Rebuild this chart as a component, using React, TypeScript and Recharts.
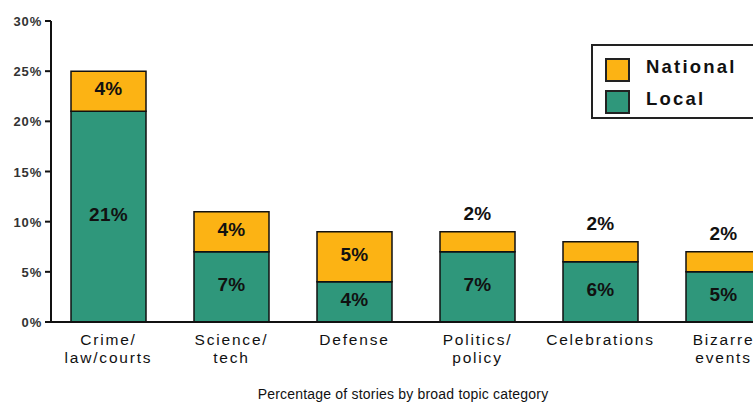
import React from "react";
import {
  BarChart,
  Bar,
  XAxis,
  YAxis,
  LabelList,
  Legend,
} from "recharts";

// topic categories (each name split over lines for the axis)
const topics = [
  "Crime/\nlaw/courts",
  "Science/\ntech",
  "Defense",
  "Politics/\npolicy",
  "Celebrations",
  "Bizarre\nevents",
];
const local = [21, 7, 4, 7, 6, 5];
const national = [4, 4, 5, 2, 2, 2];
const yTicks = [0, 5, 10, 15, 20, 25, 30];

const LOCAL_COLOR = "#2f977b";
const NATIONAL_COLOR = "#fcb314";
const FONT = "'Liberation Sans', Arial, sans-serif";

const data = topics.map((topic, i) => ({
  topic,
  local: local[i],
  national: national[i],
}));

function TopicTick(props: any) {
  const { x, y, payload } = props;
  const lines = String(payload.value).split("\n");
  return (
    <text
      x={x}
      y={y + 15}
      textAnchor="middle"
      fontFamily={FONT}
      fontSize={15.5}
      fill="#111"
      style={{ letterSpacing: "1.8px" }}
    >
      {lines.map((line, i) => (
        <tspan key={i} x={x} dy={i === 0 ? 0 : 18}>
          {line}
        </tspan>
      ))}
    </text>
  );
}

function PercentTick(props: any) {
  const { x, y, payload } = props;
  return (
    <text
      x={x - 1}
      y={y + 5}
      textAnchor="end"
      fontFamily={FONT}
      fontSize={13}
      fontWeight="bold"
      fill="#333"
      style={{ letterSpacing: "0.8px" }}
    >
      {payload.value}%
    </text>
  );
}

// value inside the segment; small national shares go above the bar
function SegmentLabel(props: any) {
  const { x, y, width, height, value } = props;
  const above = height < 25;
  return (
    <text
      x={x + width / 2}
      y={above ? y - 12 : y + height / 2 + 4}
      textAnchor="middle"
      fontFamily={FONT}
      fontSize={19}
      fontWeight="bold"
      fill="#111"
      style={{ letterSpacing: "0.3px" }}
    >
      {value}%
    </text>
  );
}

function KeyBox() {
  const items = [
    { name: "National", color: NATIONAL_COLOR },
    { name: "Local", color: LOCAL_COLOR },
  ];
  return (
    <div
      style={{
        border: "2px solid #222",
        width: 200,
        height: 75,
        background: "#fff",
        boxSizing: "border-box",
        padding: "8px 0 0 12px",
      }}
    >
      {items.map((item) => (
        <div
          key={item.name}
          style={{ display: "flex", alignItems: "center", height: 32 }}
        >
          <div
            style={{
              width: 21,
              height: 20,
              background: item.color,
              border: "2px solid #222",
              marginRight: 16,
            }}
          />
          <span
            style={{
              fontFamily: FONT,
              fontWeight: "bold",
              fontSize: 18.5,
              letterSpacing: "2.2px",
              color: "#111",
              position: "relative",
              top: -3,
            }}
          >
            {item.name}
          </span>
        </div>
      ))}
    </div>
  );
}

export default function App() {
  return (
    <div
      style={{
        position: "fixed",
        left: 0,
        top: 0,
        width: 753,
        height: 405,
        overflow: "hidden",
        background: "#fff",
      }}
    >
      <BarChart
        width={790}
        height={405}
        data={data}
        margin={{ top: 21, right: 5, bottom: 33, left: 0 }}
      >
        <XAxis
          dataKey="topic"
          interval={0}
          padding={{ left: -4, right: 0 }}
          tickLine={false}
          axisLine={{ stroke: "#111", strokeWidth: 2 }}
          tick={<TopicTick />}
          height={50}
        />
        <YAxis
          domain={[0, 30]}
          ticks={yTicks}
          width={51}
          tickSize={6}
          tickLine={{ stroke: "#111", strokeWidth: 2 }}
          axisLine={{ stroke: "#111", strokeWidth: 2 }}
          tick={<PercentTick />}
        />
        <Legend
          layout="vertical"
          align="center"
          verticalAlign="middle"
          content={<KeyBox />}
          wrapperStyle={{ left: 591, top: 44, width: 200 }}
        />
        <Bar
          dataKey="local"
          stackId="a"
          fill={LOCAL_COLOR}
          stroke="#111"
          strokeWidth={1.5}
          barSize={75}
          isAnimationActive={false}
        >
          <LabelList dataKey="local" content={<SegmentLabel />} />
        </Bar>
        <Bar
          dataKey="national"
          stackId="a"
          fill={NATIONAL_COLOR}
          stroke="#111"
          strokeWidth={1.5}
          barSize={75}
          isAnimationActive={false}
        >
          <LabelList dataKey="national" content={<SegmentLabel />} />
        </Bar>
      </BarChart>
      <div
        style={{
          position: "absolute",
          left: 0,
          width: 806,
          top: 386,
          textAlign: "center",
          fontFamily: FONT,
          fontSize: 14,
          color: "#111",
          letterSpacing: "0.2px",
        }}
      >
        Percentage of stories by broad topic category
      </div>
    </div>
  );
}
